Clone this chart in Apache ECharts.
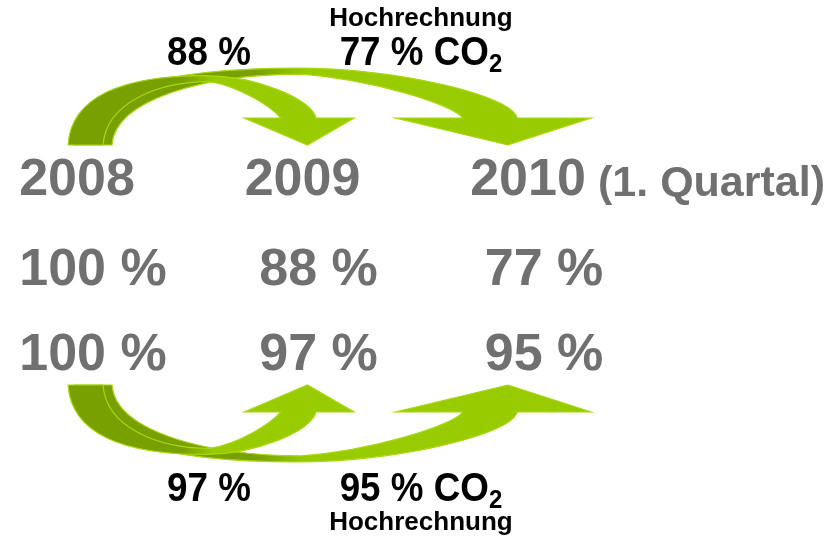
<!DOCTYPE html>
<html>
<head>
<meta charset="utf-8">
<script src="https://cdn.jsdelivr.net/npm/echarts@6/dist/echarts.min.js"></script>
<style>
html, body { margin: 0; padding: 0; background: #fff; }
#main { width: 834px; height: 539px; }
</style>
</head>
<body>
<div id="main"></div>
<script>
// Werte
var years = ['2008', '2009', '2010'];
var yearNotes = ['', '', '(1. Quartal)'];
var upperRow = [100, 88, 77];
var lowerRow = [100, 97, 95];
var projected = [false, false, true];   // 2010 = Hochrechnung
var arrowTargets = [2, 1];               // Pfeile von 2008 aus (Zeichenreihenfolge)

var FONT = '"Liberation Sans", Arial, sans-serif';
var GREY = '#707070';
var LIGHT = '#99cc00';
var DARK = '#78a000';

// Zeilen (Pixel auf der y-Achse)
var Y_YEAR = 181, Y_ROWA = 271, Y_ROWB = 356;
var TOP_BASE = 145, BOTTOM_BASE = 385;

var ctx = document.createElement('canvas').getContext('2d');
function textW(font, s) { ctx.font = font; return ctx.measureText(s).width; }

function txt(x, y, s, font, fill, align, sx) {
    return {
        type: 'text', x: x, y: y, scaleX: sx || 1,
        style: {
            text: s, font: font, fill: fill,
            align: align || 'center', textAlign: align || 'center',
            verticalAlign: 'middle', textVerticalAlign: 'middle'
        }
    };
}

// gebogener Pfeil von x0 nach x1, dir = 1 nach oben, -1 nach unten
function arrowShape(x0, x1, B, dir) {
    var s = x1 - x0;
    var h = 62 + 0.033 * s;
    var px = x0 + 36 + 0.407 * s;
    var tip = x1 + 30 - 0.111 * s;
    var W = 2 * (12 + 0.19 * s);
    var hl = tip - 0.575 * W, hr = tip + 0.425 * W;
    var sw = 16 + 0.085 * s;
    var sc = tip - 0.04 * s;
    var so = sc + sw / 2, si = sc - sw / 2;
    var hb = 27, t = 6;
    var xa = x0 - 15 + 0.027 * s;
    var xb = x0 + 17 + 0.04 * s;
    var pxi = px + 5;
    function Y(d) { return B - dir * d; }
    var d = 'M' + xa + ',' + Y(0) +
        'C' + (xa + 3) + ',' + Y(0.7 * h) + ',' + (xa + 0.4 * (px - xa)) + ',' + Y(h) + ',' + px + ',' + Y(h) +
        'C' + (px + 0.45 * (so - px)) + ',' + Y(h) + ',' + (so - 4) + ',' + Y(hb + 0.45 * (h - hb)) + ',' + so + ',' + Y(hb) +
        'L' + hr + ',' + Y(hb) +
        'L' + tip + ',' + Y(0) +
        'L' + hl + ',' + Y(hb) +
        'L' + si + ',' + Y(hb) +
        'C' + (si - 10) + ',' + Y(hb + 0.32 * (h - t - hb)) + ',' + (pxi + 0.42 * (si - pxi)) + ',' + Y(h - t - 5) + ',' + pxi + ',' + Y(h - t) +
        'C' + (pxi - 0.5 * (pxi - xb)) + ',' + Y(h - t) + ',' + (xb + 3) + ',' + Y(0.6 * h) + ',' + xb + ',' + Y(0) + 'Z';
    return {
        type: 'path',
        shape: { pathData: d },
        style: {
            fill: new echarts.graphic.LinearGradient(xa, 0, px + 10, 0, [
                { offset: 0, color: DARK },
                { offset: 0.78, color: DARK },
                { offset: 1, color: LIGHT }
            ], true),
            stroke: '#a8d810',
            lineWidth: 1.2
        }
    };
}

var myChart = echarts.init(document.getElementById('main'));

function yearItem(params, api) {
    var i = api.value(0);
    var p = api.coord([i, Y_YEAR]);
    var kids = [txt(p[0], p[1], years[i], 'bold 52px ' + FONT, GREY)];
    if (yearNotes[i]) {
        kids.push(txt(p[0] + 70, p[1] + 3, yearNotes[i], 'bold 43px ' + FONT, GREY, 'left', 1.0));
    }
    return { type: 'group', children: kids };
}

function rowItem(rowY) {
    return function (params, api) {
        var p = api.coord([api.value(0), rowY]);
        return txt(p[0] + 16, p[1], api.value(1) + ' %', 'bold 52px ' + FONT, GREY);
    };
}

function arrowItem(base, dir) {
    return function (params, api) {
        var p0 = api.coord([0, base]);
        var p1 = api.coord([api.value(0), base]);
        return arrowShape(p0[0], p1[0], base, dir);
    };
}

function labelItem(base, yMain, yHoch) {
    return function (params, api) {
        var j = api.value(0);
        var p0 = api.coord([0, base]);
        var p1 = api.coord([j, base]);
        var cx = p1[0] - 80 - 0.06 * (p1[0] - p0[0]);
        var sx = 0.92;
        var mainFont = 'bold 40px ' + FONT, subFont = 'bold 26px ' + FONT;
        var s = api.value(1) + ' %' + (projected[j] ? ' CO' : '');
        var wMain = textW(mainFont, s) * sx;
        var wSub = projected[j] ? textW(subFont, '2') * sx : 0;
        var left = cx - (wMain + wSub) / 2;
        var kids = [txt(left, yMain, s, mainFont, '#000', 'left', sx)];
        if (projected[j]) {
            kids.push(txt(left + wMain, yMain + 11, '2', subFont, '#000', 'left', sx));
            kids.push(txt(cx, yHoch, 'Hochrechnung', 'bold 26px ' + FONT, '#000', 'center', 1.0));
        }
        return { type: 'group', children: kids };
    };
}

var option = {
    animation: false,
    grid: { left: 77, right: 306, top: 0, bottom: 0 },
    xAxis: { type: 'value', min: 0, max: 2, show: false },
    yAxis: { type: 'value', min: 0, max: 539, inverse: true, show: false },
    series: [
        { type: 'custom', renderItem: arrowItem(TOP_BASE, 1),
          data: arrowTargets.map(function (j) { return [j, upperRow[j]]; }) },
        { type: 'custom', renderItem: arrowItem(BOTTOM_BASE, -1),
          data: arrowTargets.map(function (j) { return [j, lowerRow[j]]; }) },
        { type: 'custom', renderItem: yearItem,
          data: years.map(function (y, i) { return [i, +y]; }) },
        { type: 'custom', renderItem: rowItem(Y_ROWA),
          data: upperRow.map(function (v, i) { return [i, v]; }) },
        { type: 'custom', renderItem: rowItem(Y_ROWB),
          data: lowerRow.map(function (v, i) { return [i, v]; }) },
        { type: 'custom', renderItem: labelItem(TOP_BASE, 54, 19),
          data: arrowTargets.map(function (j) { return [j, upperRow[j]]; }) },
        { type: 'custom', renderItem: labelItem(BOTTOM_BASE, 490, 523),
          data: arrowTargets.map(function (j) { return [j, lowerRow[j]]; }) }
    ]
};

myChart.setOption(option);
</script>
</body>
</html>
